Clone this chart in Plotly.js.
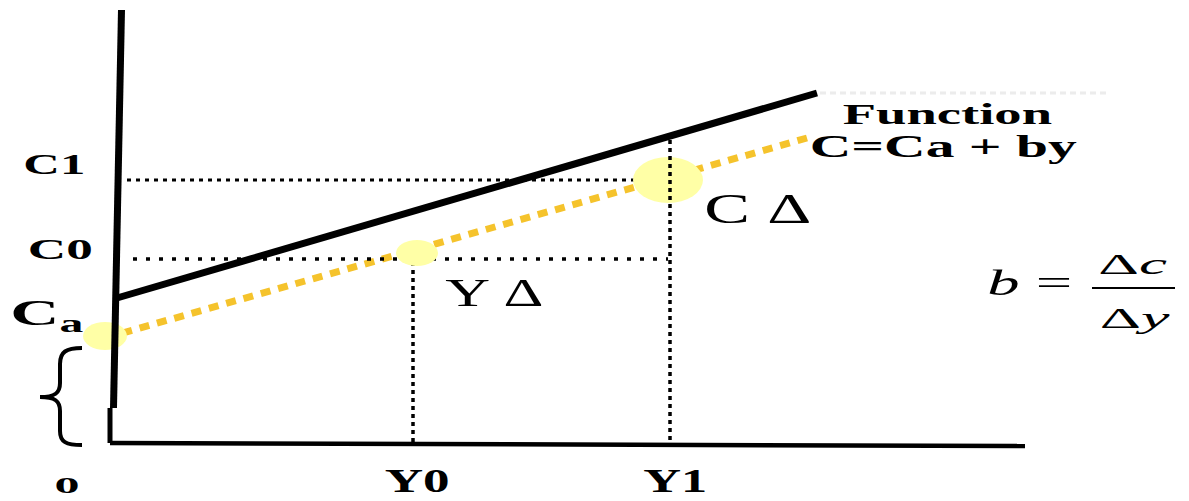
<!DOCTYPE html>
<html>
<head>
<meta charset="utf-8">
<script src="https://cdn.plot.ly/plotly-3.0.1.min.js"></script>
<style>html,body{margin:0;padding:0;background:#fff;}#chart{width:1189px;height:501px;}</style>
</head>
<body>
<div id="chart"></div>
<script>
// Diagram values (diagram units: origin at the axes corner)
const Y0 = 303, Y1 = 560;
const C0 = 184, C1 = 263, Ca = 107;
const funcX = [7, 707], funcY = [145, 350];           // C = Ca + by (solid)
const consX = [-5, 697], consY = [105, 305];          // yellow dashed line
const vAxisX = [11.5, 3.5], vAxisY = [433, 35];       // thick vertical axis
const vStubX = [0, 0], vStubY = [35, 0];
const hAxisX = [0, 915], hAxisY = [0, -3];
const c1LineX = [17, 560], c0LineX = [23, 558];
const y0LineY = [181, 0], y1LineY = [303, 0];
const faintX = [710, 1000], faintY = [350, 350];
// highlight spots: [cx, cy, rx, ry]
const spotCa = [-5, Ca, 22, 14];
const spotY0 = [307, 190, 21, 13];
const spotC1 = [558, C1, 35, 23];
const tickLabels = {x0: '0', y0: 'Y0', y1: 'Y1', c0: 'C0', c1: 'C1', ca: 'C<sub>a</sub>'};

const serif = 'Liberation Serif';
const gold = '#F5C32C';
const spotFill = '#FFFFA6';

const traces = [
  {x: faintX, y: faintY, mode: 'lines', line: {color: '#ececec', width: 3, dash: '6px,4px'}},
  {x: consX, y: consY, mode: 'lines', line: {color: gold, width: 7, dash: '10px,8px'}},
  {x: c1LineX, y: [C1, C1], mode: 'lines', line: {color: '#000', width: 3, dash: '4px,5px'}},
  {x: c0LineX, y: [C0, C0], mode: 'lines', line: {color: '#000', width: 3.5, dash: '4px,9px'}},
  {x: [Y0, Y0], y: y0LineY, mode: 'lines', line: {color: '#000', width: 3.5, dash: '4px,4px'}},
  {x: hAxisX, y: hAxisY, mode: 'lines', line: {color: '#000', width: 4.5}},
  {x: funcX, y: funcY, mode: 'lines', line: {color: '#000', width: 7}}
];

function ellipse(s) {
  return {type: 'circle', xref: 'x', yref: 'y', layer: 'above',
    x0: s[0] - s[2], x1: s[0] + s[2], y0: s[1] - s[3], y1: s[1] + s[3],
    fillcolor: spotFill, line: {width: 0}};
}

const shapes = [
  ellipse(spotCa), ellipse(spotY0), ellipse(spotC1),
  {type: 'line', xref: 'x', yref: 'y', layer: 'above', x0: Y1, x1: Y1, y0: y1LineY[0], y1: y1LineY[1],
    line: {color: '#000', width: 3.5, dash: '4px,4px'}},
  {type: 'line', xref: 'x', yref: 'y', layer: 'above', x0: vAxisX[0], x1: vAxisX[1], y0: vAxisY[0], y1: vAxisY[1],
    line: {color: '#000', width: 7}},
  {type: 'line', xref: 'x', yref: 'y', layer: 'above', x0: vStubX[0], x1: vStubX[1], y0: vStubY[0], y1: vStubY[1],
    line: {color: '#000', width: 5}},
  // fraction bar of b = Δc/Δy
  {type: 'line', xref: 'x', yref: 'y', layer: 'above', x0: 982, x1: 1065, y0: 155, y1: 155,
    line: {color: '#000', width: 2}},
  // brace marking the autonomous part Ca
  {type: 'path', xref: 'x', yref: 'y', layer: 'above',
    path: 'M -28,95 C -44,95 -50,91 -50,79 L -50,60 C -50,50 -55,46 -70,46 C -55,46 -50,42 -50,32 L -50,12 C -50,1 -44,-2 -28,-2',
    line: {color: '#000', width: 4}}
];

// [text, x, y, size, bold, italic-free, target width px, yanchor]
function ann(text, x, y, size, bold, w, yanchor) {
  return {text: text, x: x, y: y, xref: 'x', yref: 'y',
    showarrow: false, xanchor: 'center', yanchor: yanchor || 'middle',
    font: {family: serif, size: size, color: '#000', weight: bold ? 'bold' : 'normal'},
    _w: w};
}

const annList = [
  ann(tickLabels.c1, -56, 280, 30, true, 62),
  ann(tickLabels.c0, -50, 195, 30, true, 65),
  ann(tickLabels.ca, -63.5, 151, 35, true, 73, 'top'),
  ann(tickLabels.x0, -43, -42, 24, true, 25),
  ann(tickLabels.y0, Y0 + 4, -38, 33, true, 65),
  ann(tickLabels.y1, Y1 + 5, -38, 33, true, 64),
  ann('Function', 837, 330, 30, true, 210),
  ann('C=Ca + by', 833, 297, 32, true, 267),
  ann('C \u0394', 648, 234, 42, false, 107),
  ann('Y \u0394', 384, 151.5, 41, false, 98),
  ann('<i>b</i> =', 919.5, 160, 36, false, 85),
  ann('\u0394<i>c</i>', 1022.5, 179, 29, false, 69),
  ann('\u0394<i>y</i>', 1025, 125, 29, false, 70)
];
const targetWidths = annList.map(a => a._w);
const annotations = annList.map(a => { const c = Object.assign({}, a); delete c._w; return c; });

const layout = {
  width: 1189, height: 501,
  margin: {l: 0, r: 0, t: 0, b: 0},
  paper_bgcolor: '#fff', plot_bgcolor: '#fff',
  showlegend: false,
  xaxis: {range: [-110, 1079], visible: false, fixedrange: true},
  yaxis: {range: [-58, 443], visible: false, fixedrange: true},
  shapes: shapes,
  annotations: annotations
};

Plotly.newPlot('chart', traces, layout, {displayModeBar: false, staticPlot: true}).then(function (gd) {
  // the reference lettering is stretched horizontally: widen each label about its centre
  const texts = gd.querySelectorAll('.annotation .annotation-text');
  texts.forEach(function (t, i) {
    const w = targetWidths[i];
    if (!w) return;
    const bb = t.getBBox();
    if (!bb.width) return;
    const sx = w / bb.width;
    const cx = bb.x + bb.width / 2;
    t.setAttribute('transform', 'translate(' + cx + ',0) scale(' + sx + ',1) translate(' + (-cx) + ',0)');
  });
});
</script>
</body>
</html>
